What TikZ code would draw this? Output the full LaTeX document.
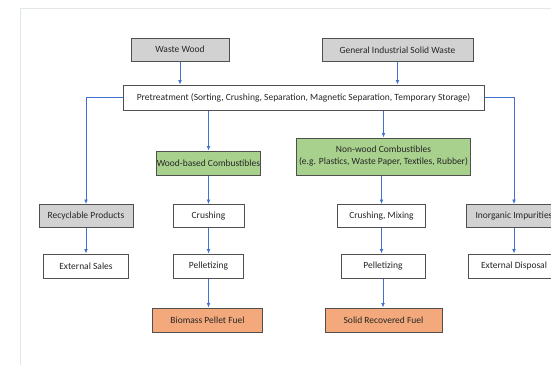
\documentclass[tikz,border=0pt]{standalone}
\usepackage{fontspec}
\setmainfont{Carlito}
\usetikzlibrary{arrows.meta}
\definecolor{boxgray}{HTML}{D2D2D2}
\definecolor{boxgreen}{HTML}{A9D18E}
\definecolor{boxorange}{HTML}{F4A97C}
\definecolor{linkblue}{HTML}{3F72CF}
\definecolor{edgegray}{HTML}{505050}
\definecolor{framegray}{HTML}{E2E8E2}
\definecolor{txt}{HTML}{262626}
\tikzset{
  box/.style={draw=edgegray, line width=1pt, inner sep=0pt, minimum height=23pt,
    text=txt, font=\fontsize{9.5}{12}\selectfont, align=center},
  graybox/.style={box, fill=boxgray},
  greenbox/.style={box, fill=boxgreen},
  orangebox/.style={box, fill=boxorange},
  whitebox/.style={box, fill=white},
  arr/.style={draw=linkblue, line width=0.8pt, -{Latex[length=4.5pt,width=3.8pt]}}
}
\begin{document}
\begin{tikzpicture}[x=1pt,y=-1pt]
\useasboundingbox (0,0) rectangle (551,365);
\clip (0,0) rectangle (551,365);
\fill[white] (0,0) rectangle (551,365);
\draw[framegray, line width=1pt] (20,365) -- (20,8) -- (551,8);

\node[graybox, minimum width=98pt] (ww) at (180,49.5) {Waste Wood};
\node[graybox, minimum width=151pt] (gisw) at (397.5,50) {General Industrial Solid Waste};
\node[whitebox, minimum width=361pt, minimum height=25pt] (pre) at (303.5,97.5)
  {Pretreatment (Sorting, Crushing, Separation, Magnetic Separation, Temporary Storage)};

\node[greenbox, minimum width=104pt, minimum height=24pt] (wb) at (208.5,163) {Wood-based Combustibles};
\node[greenbox, minimum width=174pt, minimum height=37pt] (nw) at (383.5,156.5)
  {Non-wood Combustibles\\(e.g. Plastics, Waste Paper, Textiles, Rubber)};

\node[graybox, minimum width=94pt] (rp) at (86,216) {Recyclable Products};
\node[whitebox, minimum width=71pt] (cr) at (208.5,216) {Crushing};
\node[whitebox, minimum width=88pt] (cm) at (381.5,216) {Crushing, Mixing};
\node[graybox, minimum width=96pt] (ii) at (514,216) {Inorganic Impurities};

\node[whitebox, minimum width=85pt, minimum height=24pt] (es) at (86,266) {External Sales};
\node[whitebox, minimum width=70pt, minimum height=24pt] (pl) at (208.5,266) {Pelletizing};
\node[whitebox, minimum width=84pt, minimum height=24pt] (pr) at (383,266) {Pelletizing};
\node[whitebox, minimum width=92pt, minimum height=24pt] (ed) at (514,266) {External Disposal};

\node[orangebox, minimum width=110pt, minimum height=24pt] (bf) at (207.5,320) {Biomass Pellet Fuel};
\node[orangebox, minimum width=117pt, minimum height=24pt] (srf) at (383.5,320) {Solid Recovered Fuel};

\draw[arr] (ww.south) -- (pre.north -| ww.south);
\draw[arr] (gisw.south) -- (pre.north -| gisw.south);
\draw[arr] (pre.west) -| (rp.north);
\draw[arr] (pre.east) -| (ii.north);
\draw[arr] (pre.south -| wb.north) -- (wb.north);
\draw[arr] (pre.south -| nw.north) -- (nw.north);

\draw[arr] (wb.south) -- (cr.north);
\draw[arr] (nw.south -| cm.north) -- (cm.north);
\draw[arr] (rp.south) -- (es.north);
\draw[arr] (cr.south) -- (pl.north);
\draw[arr] (cm.south) -- (pr.north -| cm.south);
\draw[arr] (ii.south) -- (ed.north);
\draw[arr] (pl.south) -- (bf.north -| pl.south);
\draw[arr] (pr.south) -- (srf.north -| pr.south);
\end{tikzpicture}
\end{document}
